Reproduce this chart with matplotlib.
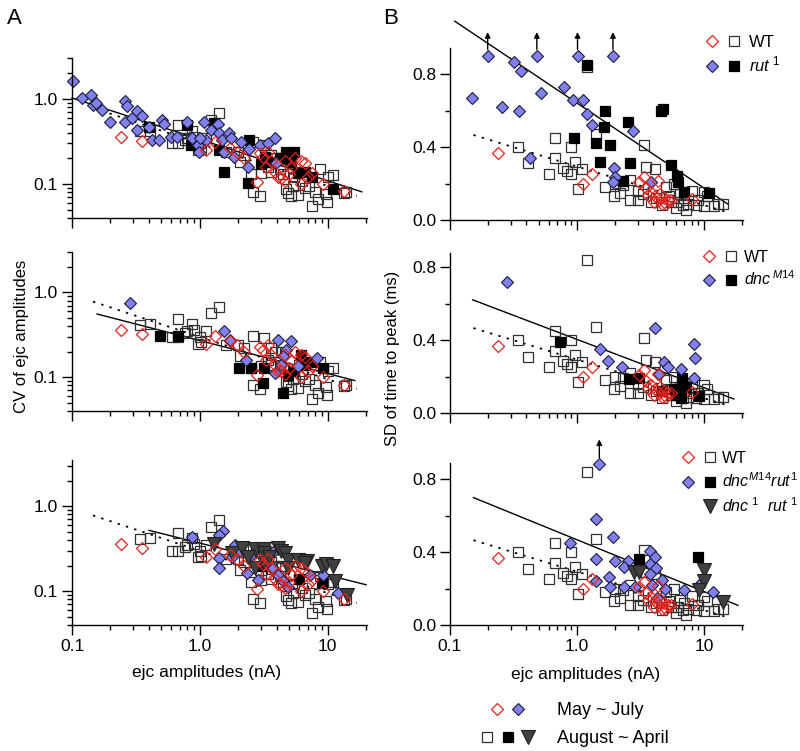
import matplotlib
matplotlib.use('Agg')
import matplotlib.pyplot as plt
from matplotlib.lines import Line2D
from matplotlib.legend_handler import HandlerTuple
from matplotlib.ticker import LogLocator, NullFormatter, MultipleLocator, FormatStrFormatter

plt.rcParams['font.family'] = ['Liberation Sans', 'DejaVu Sans']
plt.rcParams['mathtext.fontset'] = 'custom'
plt.rcParams['mathtext.rm'] = 'Liberation Sans'
plt.rcParams['mathtext.it'] = 'Liberation Sans:italic'

# ---- WT (same control data in every row) ----
wt_may_amp_a = [0.24, 0.35, 1.11, 1.31, 1.73, 1.94, 2.23, 2.80, 2.94, 3.12, 3.40, 3.30, 3.60, 3.90, 4.10,
                4.35, 4.60, 4.60, 5.00, 5.20, 5.60, 6.20, 6.20, 6.60, 7.00, 7.50, 9.20, 13.3]
wt_may_cv = [0.36, 0.32, 0.25, 0.31, 0.265, 0.24, 0.20, 0.105, 0.23, 0.21, 0.24, 0.16, 0.185, 0.14, 0.12,
             0.118, 0.185, 0.11, 0.13, 0.155, 0.20, 0.185, 0.10, 0.175, 0.12, 0.135, 0.10, 0.082]
wt_aug_amp_a = [0.34, 0.41, 0.61, 0.68, 0.67, 0.77, 0.80, 0.875, 0.90, 0.97, 1.02, 1.11, 1.22, 1.42, 1.00,
                1.60, 1.98, 2.07, 2.20, 2.52, 2.60, 3.20, 2.60, 2.93, 3.00, 3.40, 3.60, 3.90, 4.20, 4.50,
                4.75, 4.90, 5.20, 5.40, 5.90, 6.30, 6.60, 7.20, 7.60, 8.00, 8.45, 8.70, 9.70, 9.80, 10.1,
                11.1, 13.3, 14.0, 5.50, 6.00, 4.40, 3.60]
wt_aug_cv = [0.415, 0.42, 0.30, 0.30, 0.49, 0.33, 0.35, 0.42, 0.36, 0.25, 0.26, 0.35, 0.57, 0.68, 0.30,
             0.24, 0.24, 0.18, 0.22, 0.13, 0.31, 0.29, 0.08, 0.072, 0.135, 0.16, 0.14, 0.20, 0.15, 0.13,
             0.087, 0.078, 0.072, 0.095, 0.075, 0.11, 0.09, 0.096, 0.056, 0.08, 0.066, 0.15, 0.076, 0.061, 0.12,
             0.129, 0.078, 0.08, 0.12, 0.14, 0.20, 0.22]
wt_may_amp_b = [0.24, 1.11, 1.31, 3.06, 3.40, 4.35, 3.50, 3.80, 4.10, 4.50, 4.85, 4.40, 4.05, 5.20, 5.50,
                8.10, 5.00, 3.60, 4.70]
wt_may_sd = [0.37, 0.20, 0.25, 0.21, 0.235, 0.215, 0.175, 0.155, 0.13, 0.145, 0.12, 0.11, 0.10, 0.11, 0.11,
             0.115, 0.09, 0.135, 0.09]
wt_aug_amp_b = [0.342, 0.41, 0.60, 0.667, 0.667, 0.77, 0.84, 0.90, 0.90, 0.97, 1.01, 1.10, 1.20, 1.41, 1.67,
                1.95, 2.20, 2.30, 2.60, 2.60, 3.00, 3.00, 3.36, 3.50, 4.15, 3.30, 3.80, 4.20, 4.70, 5.00,
                5.30, 5.50, 6.00, 6.30, 6.50, 7.20, 7.00, 7.50, 8.00, 8.60, 9.00, 10.0, 10.0, 10.5, 12.0,
                13.0, 14.0, 5.80, 6.80, 2.00]
wt_aug_sd = [0.40, 0.31, 0.25, 0.45, 0.34, 0.283, 0.27, 0.40, 0.25, 0.32, 0.17, 0.28, 0.84, 0.47, 0.18,
             0.13, 0.15, 0.19, 0.11, 0.22, 0.11, 0.16, 0.41, 0.29, 0.28, 0.14, 0.10, 0.12, 0.08, 0.18,
             0.13, 0.10, 0.065, 0.10, 0.14, 0.055, 0.12, 0.09, 0.16, 0.08, 0.11, 0.075, 0.155, 0.13, 0.075,
             0.09, 0.09, 0.20, 0.08, 0.20]

# ---- rut1 ----
rut_may_amp_a = [0.101, 0.119, 0.14, 0.147, 0.155, 0.171, 0.199, 0.261, 0.27, 0.261, 0.295, 0.323, 0.354,
                 0.323, 0.40, 0.42, 0.478, 0.51, 0.52, 0.59, 0.667, 0.80, 0.85, 0.875, 0.96, 0.99, 1.08,
                 1.11, 1.22, 1.38, 1.42, 1.50, 1.55, 1.70, 1.76, 1.86, 2.10, 2.37, 2.44, 2.93, 3.41, 3.85,
                 3.97, 1.00]
rut_may_cv = [1.6, 1.02, 1.11, 0.85, 0.89, 0.74, 0.54, 0.93, 0.82, 0.54, 0.59, 0.71, 0.62,
              0.43, 0.47, 0.33, 0.33, 0.556, 0.50, 0.354, 0.36, 0.527, 0.36, 0.345, 0.288, 0.24, 0.54,
              0.33, 0.43, 0.50, 0.394, 0.33, 0.24, 0.394, 0.345, 0.21, 0.315, 0.16, 0.26, 0.287, 0.30, 0.345,
              0.175, 0.345]
rut_aug_amp_a = [0.40, 0.80, 0.85, 1.30, 1.42, 1.55, 2.38, 2.44, 3.00, 3.25, 3.60, 4.20, 4.75, 5.20, 5.50,
                 5.90, 6.60, 7.50, 11.1]
rut_aug_cv = [0.46, 0.49, 0.29, 0.52, 0.25, 0.14, 0.104, 0.33, 0.17, 0.21, 0.18, 0.20, 0.24, 0.18, 0.24,
              0.135, 0.14, 0.12, 0.087]
rut_may_amp_b = [0.15, 0.198, 0.259, 0.32, 0.363, 0.35, 0.483, 0.52, 0.428, 0.79, 0.93, 1.01, 1.11, 1.21,
                 1.31, 1.92, 1.95, 2.00, 1.92, 2.75, 3.84]
rut_may_sd = [0.67, 0.90, 0.62, 0.868, 0.818, 0.60, 0.90, 0.698, 0.342, 0.731, 0.658, 0.90, 0.658, 0.579,
              0.52, 0.90, 0.283, 0.237, 0.21, 0.488, 0.21]
rut_offscale_amp = [0.198, 0.483, 1.01, 1.92]
rut_aug_amp_b = [1.21, 1.67, 1.62, 0.946, 1.41, 1.81, 2.52, 1.51, 2.60, 4.55, 4.75, 2.31, 5.48, 6.08, 6.30,
                 7.00, 10.9]
rut_aug_sd = [0.85, 0.60, 0.511, 0.451, 0.424, 0.411, 0.539, 0.32, 0.31, 0.597, 0.608, 0.214, 0.301, 0.243,
              0.21, 0.155, 0.15]

# ---- dncM14 ----
dnc_may_amp_a = [0.286, 1.54, 1.73, 2.30, 4.05, 5.20, 4.75, 4.50, 3.85, 5.85, 8.20, 4.30]
dnc_may_cv = [0.76, 0.35, 0.277, 0.161, 0.277, 0.265, 0.21, 0.18, 0.113, 0.135, 0.167, 0.14]
dnc_aug_amp_a = [0.49, 0.68, 2.04, 2.52, 3.20, 3.10, 4.50, 4.85, 6.20, 6.60, 9.25, 5.50, 7.50]
dnc_aug_cv = [0.31, 0.305, 0.129, 0.13, 0.13, 0.086, 0.066, 0.107, 0.184, 0.14, 0.129, 0.12, 0.15]
dnc_may_amp_b = [0.28, 1.53, 1.75, 2.25, 4.15, 4.83, 5.20, 4.40, 6.55, 8.34, 8.50, 8.34]
dnc_may_sd = [0.718, 0.351, 0.283, 0.25, 0.469, 0.279, 0.25, 0.214, 0.243, 0.38, 0.301, 0.192]
dnc_aug_amp_b = [0.73, 2.56, 3.06, 6.75, 6.75, 6.35, 9.14, 4.70, 6.55, 7.20, 5.80, 6.00]
dnc_aug_sd = [0.389, 0.188, 0.192, 0.192, 0.155, 0.119, 0.091, 0.119, 0.082, 0.14, 0.13, 0.10]

# ---- dncM14 rut1 and dnc1 rut1 ----
dr_may_amp_a = [0.875, 1.51, 1.42, 1.42, 1.42, 1.90, 2.07, 2.35, 2.84, 3.85, 3.73, 4.10, 4.50, 4.90, 7.30,
                9.25, 12.1, 2.50, 3.40, 1.80]
dr_may_cv = [0.436, 0.51, 0.464, 0.247, 0.188, 0.354, 0.296, 0.164, 0.137, 0.309, 0.188, 0.156, 0.131, 0.112,
             0.156, 0.156, 0.094, 0.27, 0.26, 0.25]
dr_aug_amp_a = [3.10, 9.00, 6.00]
dr_aug_cv = [0.197, 0.126, 0.14]
d1r1_amp_a = [1.30, 1.80, 2.15, 2.70, 3.20, 3.20, 3.20, 2.70, 4.10, 4.35, 4.60, 4.90, 4.90, 5.90, 6.90,
              6.60, 9.00, 9.70, 11.1, 11.5, 14.1, 3.50, 2.40]
d1r1_cv = [0.36, 0.283, 0.32, 0.31, 0.31, 0.283, 0.215, 0.188, 0.32, 0.296, 0.283, 0.236, 0.188, 0.236,
           0.225, 0.215, 0.197, 0.207, 0.197, 0.131, 0.091, 0.25, 0.25]
dr_may_amp_b = [1.50, 1.41, 1.92, 0.875, 1.41, 2.00, 2.52, 2.35, 1.41, 1.80, 1.83, 2.33, 2.85, 3.79, 4.10,
                3.75, 4.20, 3.77, 4.64, 3.90, 4.95, 4.30, 6.95, 11.8, 9.10]
dr_may_sd = [0.886, 0.582, 0.481, 0.451, 0.361, 0.352, 0.352, 0.321, 0.239, 0.261, 0.207, 0.211, 0.211,
             0.409, 0.371, 0.334, 0.312, 0.281, 0.248, 0.22, 0.198, 0.15, 0.193, 0.183, 0.22]
dr_offscale_amp = [1.50]
dr_aug_amp_b = [3.07, 8.98]
dr_aug_sd = [0.363, 0.371]
d1r1_amp_b = [2.80, 3.10, 10.0, 10.0, 9.10, 14.2]
d1r1_sd = [0.293, 0.293, 0.30, 0.24, 0.19, 0.128]

# ---- regression line end points (x, y) ----
fit_wt_cv = ([0.146, 16.9], [0.78, 0.073])
fit_rut_cv = ([0.1, 18.5], [1.02, 0.081])
fit_dnc_cv = ([0.157, 16.3], [0.557, 0.0914])
fit_dr_cv = ([0.40, 20.0], [0.52, 0.119])
fit_wt_sd = ([0.153, 15.7], [0.466, 0.040])
fit_rut_sd = ([0.109, 15.6], [1.09, 0.085])
fit_dnc_sd = ([0.151, 17.2], [0.621, 0.077])
fit_dr_sd = ([0.153, 18.5], [0.70, 0.108])

RED = '#e3231e'
BLUE = '#8181ee'
TRI = '#404040'
W, H = 800, 751

fig = plt.figure(figsize=(8, 7.51), dpi=100)


def box(left, top, right, bottom):
    return [left / W, 1 - bottom / H, (right - left) / W, (bottom - top) / H]


def style_common(ax, show_x):
    ax.set_xscale('log')
    ax.set_xlim(0.1, 20.3)
    ax.set_xticks([0.1, 1, 10])
    ax.set_xticklabels(['0.1', '1.0', '10'])
    ax.xaxis.set_minor_locator(LogLocator(base=10, subs=range(2, 10), numticks=20))
    ax.xaxis.set_minor_formatter(NullFormatter())
    ax.tick_params(labelbottom=show_x)
    ax.tick_params(which='major', direction='out', length=7, width=1, labelsize=12.5, pad=3)
    ax.tick_params(which='minor', direction='out', length=3.5, width=1)
    for s in ['top', 'right']:
        ax.spines[s].set_visible(False)
    for s in ['left', 'bottom']:
        ax.spines[s].set_linewidth(1)


def style_cv(ax, ytop, show_x):
    style_common(ax, show_x)
    ax.set_yscale('log')
    ax.set_ylim(0.04, ytop)
    ax.set_yticks([0.1, 1.0])
    ax.set_yticklabels(['0.1', '1.0'])
    ax.yaxis.set_minor_locator(LogLocator(base=10, subs=range(2, 10), numticks=20))
    ax.yaxis.set_minor_formatter(NullFormatter())


def style_sd(ax, ytop, show_x):
    style_common(ax, show_x)
    ax.set_ylim(0, ytop)
    ax.yaxis.set_major_locator(MultipleLocator(0.4))
    ax.yaxis.set_major_formatter(FormatStrFormatter('%.1f'))
    ax.yaxis.set_minor_locator(MultipleLocator(0.2))


def open_sq(ax, x, y):
    return ax.plot(x, y, ls='none', marker='s', ms=7.2, mfc='none', mec='#303030', mew=0.9, zorder=2)[0]


def black_sq(ax, x, y):
    return ax.plot(x, y, ls='none', marker='s', ms=7.2, mfc='black', mec='black', mew=0.9, zorder=2.1)[0]


def blue_d(ax, x, y):
    return ax.plot(x, y, ls='none', marker='D', ms=6.6, mfc=BLUE, mec='#1c1c3a', mew=0.8,
                   zorder=2.2, clip_on=False)[0]


def red_d(ax, x, y):
    return ax.plot(x, y, ls='none', marker='D', ms=6.6, mfc='none', mec=RED, mew=0.9, zorder=2.4)[0]


def tri(ax, x, y):
    return ax.plot(x, y, ls='none', marker='v', ms=10, mfc=TRI, mec='#202020', mew=0.8, zorder=2.3)[0]


def fit(ax, line, dotted=False):
    if dotted:
        ax.plot(*line, color='black', lw=1.3, ls=(0, (1.3, 3.5)), zorder=1.5)
    else:
        ax.plot(*line, color='black', lw=1.0, zorder=1.5, clip_on=False)


def arrows(ax, xs, y0, y1):
    for x in xs:
        ax.annotate('', xy=(x, y1), xytext=(x, y0), annotation_clip=False,
                    arrowprops=dict(arrowstyle='-|>', color='black', lw=1.0,
                                    mutation_scale=8, shrinkA=0, shrinkB=0))


def row_legend(ax, rows, labels, left, top, size=12, textpad=0.5, spacing=0.3):
    ax.legend(rows, labels, handler_map={tuple: HandlerTuple(ndivide=None, pad=0.5)},
              loc='upper left', bbox_to_anchor=(left / W, 1 - top / H), bbox_transform=fig.transFigure,
              frameon=False, fontsize=size, handlelength=2.14 * 12 / size, handletextpad=textpad,
              borderpad=0, borderaxespad=0, labelspacing=spacing, numpoints=1)


# ---------------- column A: CV ----------------
axA1 = fig.add_axes(box(72, 58, 367, 218))
axA2 = fig.add_axes(box(72, 252, 367, 411))
axA3 = fig.add_axes(box(72, 460, 367, 625))

for ax, top, showx in [(axA1, 3.0, False), (axA2, 3.0, False), (axA3, 3.5, True)]:
    style_cv(ax, top, showx)
    open_sq(ax, wt_aug_amp_a, wt_aug_cv)
    fit(ax, fit_wt_cv, dotted=True)

black_sq(axA1, rut_aug_amp_a, rut_aug_cv)
blue_d(axA1, rut_may_amp_a, rut_may_cv)
fit(axA1, fit_rut_cv)

black_sq(axA2, dnc_aug_amp_a, dnc_aug_cv)
blue_d(axA2, dnc_may_amp_a, dnc_may_cv)
fit(axA2, fit_dnc_cv)

h_bsq = black_sq(axA3, dr_aug_amp_a, dr_aug_cv)
h_blue = blue_d(axA3, dr_may_amp_a, dr_may_cv)
h_tri = tri(axA3, d1r1_amp_a, d1r1_cv)
fit(axA3, fit_dr_cv)

for ax in [axA1, axA2, axA3]:
    red_d(ax, wt_may_amp_a, wt_may_cv)

# ---------------- column B: SD of time to peak ----------------
axB1 = fig.add_axes(box(450, 48, 743, 220))
axB2 = fig.add_axes(box(450, 253, 743, 413))
axB3 = fig.add_axes(box(450, 463, 743, 625))

wt_handles = []
for ax, top, showx in [(axB1, 0.943, False), (axB2, 0.878, False), (axB3, 0.89, True)]:
    style_sd(ax, top, showx)
    hs = open_sq(ax, wt_aug_amp_b, wt_aug_sd)
    fit(ax, fit_wt_sd, dotted=True)
    wt_handles.append(hs)

b1_sq = black_sq(axB1, rut_aug_amp_b, rut_aug_sd)
b1_d = blue_d(axB1, rut_may_amp_b, rut_may_sd)
fit(axB1, fit_rut_sd)
arrows(axB1, rut_offscale_amp, 0.935, 1.03)

b2_sq = black_sq(axB2, dnc_aug_amp_b, dnc_aug_sd)
b2_d = blue_d(axB2, dnc_may_amp_b, dnc_may_sd)
fit(axB2, fit_dnc_sd)

b3_sq = black_sq(axB3, dr_aug_amp_b, dr_aug_sd)
b3_d = blue_d(axB3, dr_may_amp_b, dr_may_sd)
b3_t = tri(axB3, d1r1_amp_b, d1r1_sd)
fit(axB3, fit_dr_sd)
arrows(axB3, dr_offscale_amp, 0.92, 1.02)

red_handles = [red_d(ax, wt_may_amp_b, wt_may_sd) for ax in [axB1, axB2, axB3]]

blank = Line2D([], [], ls='none', marker=None)
row_legend(axB1, [(red_handles[0], wt_handles[0]), (b1_d, b1_sq)],
           ['WT', r'$rut^{\ \mathit{1}}$'], 705, 35)
row_legend(axB2, [(red_handles[1], wt_handles[1]), (b2_d, b2_sq)],
           ['WT', r'$dnc^{\,\mathit{M14}}$'], 702, 250, size=11.5, textpad=0.4)
row_legend(axB3, [(red_handles[2], wt_handles[2]), (b3_d, b3_sq), (blank, b3_t)],
           ['WT', r'$dnc^{\mathit{M14}}rut^{\mathit{1}}$', r'$dnc^{\ \mathit{1}}\ \ rut^{\ \mathit{1}}$'],
           681, 451, size=11.5, textpad=0.35, spacing=0.35)

# ---------------- season legend ----------------
row1 = (red_handles[2], h_blue)
row2 = (wt_handles[2], h_bsq, h_tri)
fig.legend([row1, row2], ['May ~ July', 'August ~ April'],
           handler_map={row1: HandlerTuple(ndivide=None, pad=-0.83),
                        row2: HandlerTuple(ndivide=None, pad=0.25)},
           loc='upper left', bbox_to_anchor=(479 / W, 1 - 702 / H), frameon=False, fontsize=13,
           handlelength=3.16, handletextpad=1.14, borderpad=0, borderaxespad=0,
           labelspacing=0.62, numpoints=1)

# ---------------- labels ----------------
fig.text(7 / W, 1 - 8 / H, 'A', fontsize=16, ha='left', va='top')
fig.text(383 / W, 1 - 8 / H, 'B', fontsize=16, ha='left', va='top')
fig.text(22 / W, 1 - 336 / H, 'CV of ejc amplitudes', rotation=90, ha='center', va='center', fontsize=12)
fig.text(393 / W, 1 - 358 / H, 'SD of time to peak (ms)', rotation=90, ha='center', va='center', fontsize=12)
fig.text(207 / W, 1 - 673 / H, 'ejc amplitudes (nA)', ha='center', va='center', fontsize=12.5)
fig.text(586 / W, 1 - 675 / H, 'ejc amplitudes (nA)', ha='center', va='center', fontsize=12.5)

fig.savefig('out.png', dpi=100)
